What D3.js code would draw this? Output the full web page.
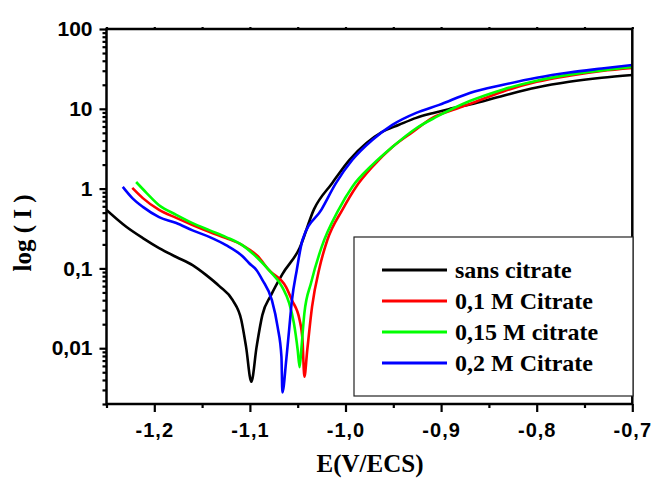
<!DOCTYPE html>
<html>
<head>
<meta charset="utf-8">
<script src="https://cdn.jsdelivr.net/npm/d3@7"></script>
<style>
  body { margin: 0; background: #fff; }
  svg { display: block; }
</style>
</head>
<body>
<div id="chart"></div>
<script>
(function(){
	var W = 652, H = 479;
	var left = 106.5, right = 632.3, top = 29, bottom = 404;

	// série : sans citrate
	var blackE = [-1.250,-1.229,-1.212,-1.195,-1.177,-1.160,-1.146,-1.132,-1.118,-1.109,-1.104,-1.0985,-1.093,-1.087,-1.078,-1.066,-1.048,-1.033,-1.014,-0.996,-0.978,-0.962,-0.944,-0.926,-0.909,-0.892,-0.870,-0.835,-0.800,-0.766,-0.732,-0.700];
	var blackI = [0.54,0.33,0.24,0.18,0.139,0.110,0.083,0.060,0.040,0.0226,0.0104,0.0038,0.0104,0.026,0.046,0.085,0.18,0.55,1.17,2.28,3.73,5.1,6.3,7.7,8.8,9.9,11.3,14.6,18.5,21.8,24.5,26.5];
	// 0,1 M Citrate
	var redE = [-1.223,-1.212,-1.195,-1.177,-1.160,-1.142,-1.125,-1.108,-1.092,-1.080,-1.062,-1.056,-1.048,-1.045,-1.043,-1.040,-1.035,-1.027,-1.019,-1.003,-0.989,-0.972,-0.951,-0.930,-0.909,-0.884,-0.870,-0.835,-0.800,-0.766,-0.732,-0.700];
	var redI = [1.02,0.76,0.54,0.43,0.35,0.286,0.24,0.196,0.143,0.095,0.058,0.040,0.0226,0.0127,0.0044,0.0095,0.033,0.104,0.227,0.55,1.05,1.87,3.32,5.1,7.7,10.0,11.5,16.5,21.8,26.0,29.8,32.5];
	// 0,15 M citrate
	var greenE = [-1.219,-1.208,-1.195,-1.177,-1.160,-1.142,-1.125,-1.108,-1.092,-1.080,-1.066,-1.059,-1.054,-1.050,-1.048,-1.046,-1.043,-1.036,-1.025,-1.007,-0.993,-0.972,-0.951,-0.926,-0.905,-0.870,-0.835,-0.800,-0.766,-0.732,-0.700];
	var greenI = [1.21,0.88,0.62,0.47,0.37,0.30,0.247,0.196,0.135,0.095,0.058,0.037,0.0207,0.0095,0.0058,0.0104,0.0276,0.066,0.185,0.55,1.05,1.98,3.32,5.7,7.9,12.5,17.5,22.5,26.8,30.3,33.4];
	// 0,2 M Citrate
	var blueE = [-1.233,-1.223,-1.212,-1.195,-1.177,-1.160,-1.142,-1.125,-1.108,-1.101,-1.093,-1.087,-1.077,-1.071,-1.067,-1.066,-1.062,-1.059,-1.056,-1.051,-1.045,-1.025,-1.010,-0.993,-0.972,-0.951,-0.926,-0.902,-0.870,-0.835,-0.800,-0.766,-0.732,-0.700];
	var blueI = [1.05,0.76,0.59,0.44,0.37,0.30,0.247,0.196,0.143,0.117,0.095,0.072,0.040,0.0185,0.0078,0.0028,0.0071,0.0169,0.040,0.095,0.227,0.55,1.17,2.28,4.07,6.3,8.9,11.2,15.8,20.0,24.5,28.5,32.0,35.4];

	var seriesNames = ["sans citrate", "0,1 M Citrate", "0,15 M citrate", "0,2 M Citrate"];
	var seriesColors = ["#000000", "#ff0000", "#00ff00", "#0000ff"];

	var xTicks = [-1.2, -1.1, -1.0, -0.9, -0.8, -0.7];
	var xTickLabels = ["-1,2", "-1,1", "-1,0", "-0,9", "-0,8", "-0,7"];
	var xMinor = [-1.25, -1.15, -1.05, -0.95, -0.85, -0.75];
	var yTicks = [0.01, 0.1, 1, 10, 100];
	var yTickLabels = ["0,01", "0,1", "1", "10", "100"];

	var series = [[blackE, blackI], [redE, redI], [greenE, greenI], [blueE, blueI]].map(function(s, k){
		return { name: seriesNames[k], color: seriesColors[k],
			values: s[0].map(function(e, i){ return { e: e, v: s[1][i] }; }) };
	});

	var svg = d3.select("#chart").append("svg")
		.attr("width", W).attr("height", H);

	var x = d3.scaleLinear().domain([-1.25, -0.7]).range([left, right]);
	var y = d3.scaleLog().domain([0.002, 100]).range([bottom, top]);

	svg.append("clipPath").attr("id", "plot")
		.append("rect").attr("x", left).attr("y", top)
		.attr("width", right - left).attr("height", bottom - top);

	// courbes
	var line = d3.line()
		.x(function(d){ return x(d.e); })
		.y(function(d){ return y(d.v); })
		.curve(d3.curveMonotoneX);

	svg.append("g").attr("clip-path", "url(#plot)")
		.selectAll("path")
		.data(series)
		.enter()
		.append("path")
		.attr("d", function(d){ return line(d.values); })
		.attr("fill", "none")
		.attr("stroke", function(d){ return d.color; })
		.attr("stroke-width", 2.6)
		.attr("stroke-linejoin", "round");

	// axes
	function styleAxis(g){
		g.select(".domain").remove();
		g.selectAll("line").attr("stroke", "#000").attr("stroke-width", 2.2);
		g.selectAll("text")
			.attr("fill", "#000")
			.style("font-family", "'Liberation Sans', Arial, sans-serif")
			.style("font-weight", "bold");
	}

	var yMinor = y.ticks().filter(function(t){ return yTicks.indexOf(t) < 0; });

	svg.append("g").attr("transform", "translate(" + left + ",0)")
		.call(d3.axisLeft(y).tickValues(yMinor).tickSize(4).tickFormat(""))
		.call(styleAxis);
	svg.append("g").attr("transform", "translate(" + left + ",0)")
		.call(d3.axisLeft(y).tickValues(yTicks).tickSize(7).tickPadding(7)
			.tickFormat(function(d, i){ return yTickLabels[i]; }))
		.call(styleAxis)
		.selectAll("text").style("font-size", "21px");

	svg.append("g").attr("transform", "translate(0," + bottom + ")")
		.call(d3.axisBottom(x).tickValues(xMinor).tickSize(4).tickFormat(""))
		.call(styleAxis);
	svg.append("g").attr("transform", "translate(0," + bottom + ")")
		.call(d3.axisBottom(x).tickValues(xTicks).tickSize(8).tickPadding(11)
			.tickFormat(function(d, i){ return xTickLabels[i]; }))
		.call(styleAxis)
		.selectAll("text").style("font-size", "20px").style("letter-spacing", "1px");

	svg.append("g").attr("transform", "translate(0," + top + ")")
		.call(d3.axisTop(x).tickValues(xTicks.concat(xMinor)).tickSize(2).tickFormat(""))
		.call(styleAxis);

	// cadre
	svg.append("rect")
		.attr("x", left).attr("y", top)
		.attr("width", right - left).attr("height", bottom - top)
		.attr("fill", "none").attr("stroke", "#000").attr("stroke-width", 2.5);

	// titres
	svg.append("text")
		.attr("x", 370).attr("y", 472)
		.attr("text-anchor", "middle")
		.style("font-family", "'Liberation Serif', 'Times New Roman', serif")
		.style("font-weight", "bold").style("font-size", "25px")
		.text("E(V/ECS)");

	svg.append("text")
		.attr("transform", "translate(31,233) rotate(-90)")
		.attr("text-anchor", "middle")
		.style("font-family", "'Liberation Serif', 'Times New Roman', serif")
		.style("font-weight", "bold").style("font-size", "25px")
		.text("log ( I )");

	// légende
	var lg = svg.append("g");
	lg.append("rect")
		.attr("x", 354).attr("y", 237).attr("width", 279).attr("height", 159)
		.attr("fill", "#fff").attr("stroke", "#222").attr("stroke-width", 1.2);
	var item = lg.selectAll("g.item")
		.data(series)
		.enter()
		.append("g")
		.attr("transform", function(d, i){ return "translate(0," + (270 + i * 31) + ")"; });
	item.append("line")
		.attr("x1", 382).attr("x2", 447)
		.attr("stroke", function(d){ return d.color; })
		.attr("stroke-width", 3);
	item.append("text")
		.attr("x", 455).attr("y", 8)
		.style("font-family", "'Liberation Serif', 'Times New Roman', serif")
		.style("font-weight", "bold").style("font-size", "24px")
		.text(function(d){ return d.name; });
})();
</script>
</body>
</html>
